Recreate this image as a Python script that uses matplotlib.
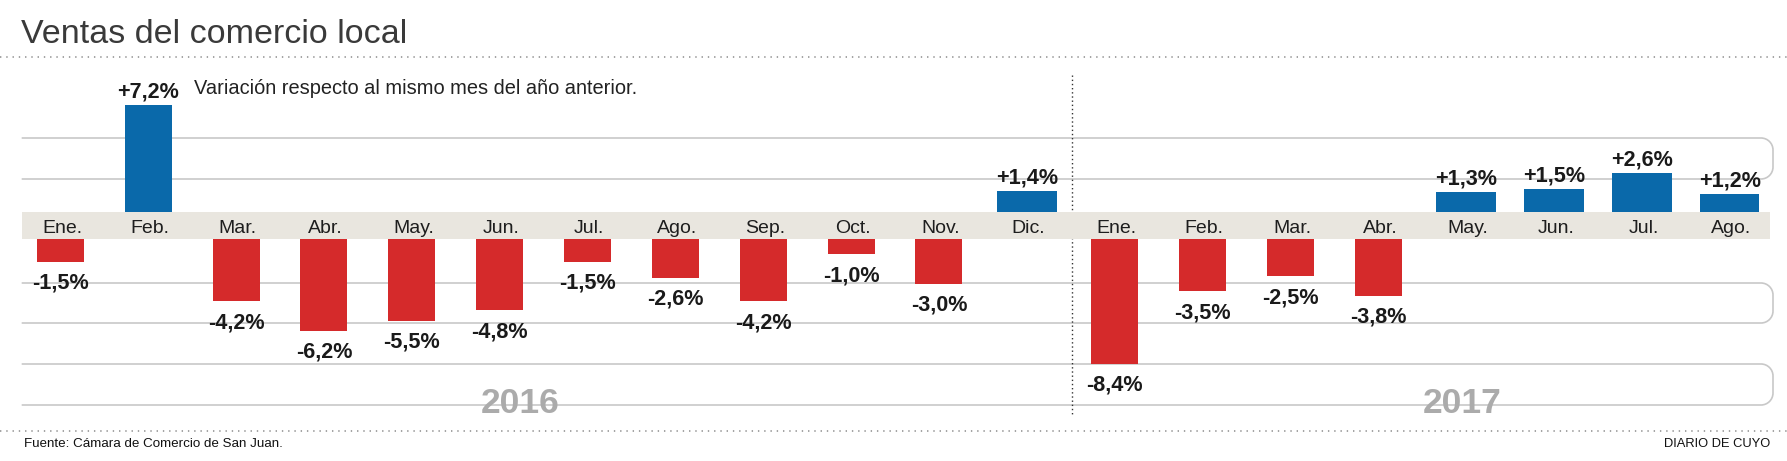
import matplotlib

matplotlib.use("Agg")
import matplotlib.pyplot as plt
from matplotlib.path import Path
from matplotlib.patches import PathPatch
import numpy as np

# data
MONTHS_2016 = ["Ene.", "Feb.", "Mar.", "Abr.", "May.", "Jun.", "Jul.", "Ago.", "Sep.", "Oct.", "Nov.", "Dic."]
MONTHS_2017 = ["Ene.", "Feb.", "Mar.", "Abr.", "May.", "Jun.", "Jul.", "Ago."]
VALUES_2016 = [-1.5, 7.2, -4.2, -6.2, -5.5, -4.8, -1.5, -2.6, -4.2, -1.0, -3.0, 1.4]
VALUES_2017 = [-8.4, -3.5, -2.5, -3.8, 1.3, 1.5, 2.6, 1.2]
YEARS = ["2016", "2017"]

TITLE = "Ventas del comercio local"
SUBTITLE = "Variación respecto al mismo mes del año anterior."
SOURCE = "Fuente: Cámara de Comercio de San Juan."
BRAND = "DIARIO DE CUYO"

# colours / layout (pixels of a 1787x461 canvas)
BLUE = "#0a69aa"
RED = "#d52a2b"
BAND = "#e9e6df"
GRID = "#c8c8c8"
W, H = 1787, 461
X0, STEP = 60.3, 87.86      # centre of first bar, bar spacing
YC, PPU = 225.5, 14.8       # band centre, pixels per percentage point
HALF_BAND = 13.8 / PPU      # half band height in data units

plt.rcParams["font.family"] = ["Liberation Sans", "DejaVu Sans"]


def fmt(v: float) -> str:
    return f"{v:+.1f}%".replace(".", ",")


def bracket(ax, y_top, y_bot, x_left=21.7, x_right=1773, r=12):
    k = 0.5523 * r
    verts = [
        (x_left, y_top), (x_right - r, y_top),
        (x_right - r + k, y_top), (x_right, y_top + r - k), (x_right, y_top + r),
        (x_right, y_bot - r),
        (x_right, y_bot - r + k), (x_right - r + k, y_bot), (x_right - r, y_bot),
        (x_left, y_bot),
    ]
    codes = [Path.MOVETO, Path.LINETO,
             Path.CURVE4, Path.CURVE4, Path.CURVE4,
             Path.LINETO,
             Path.CURVE4, Path.CURVE4, Path.CURVE4,
             Path.LINETO]
    ax.add_patch(PathPatch(Path(verts, codes), facecolor="none", edgecolor=GRID,
                           linewidth=1.2, zorder=1))


def main() -> None:
    months = MONTHS_2016 + MONTHS_2017
    values = np.array(VALUES_2016 + VALUES_2017)
    xs = np.arange(len(values))

    fig = plt.figure(figsize=(W / 100, H / 100), dpi=100)
    fig.patch.set_facecolor("white")

    # decoration layer in pixel coordinates
    deco = fig.add_axes([0, 0, 1, 1])
    deco.set_xlim(0, W)
    deco.set_ylim(H, 0)
    deco.axis("off")

    for y_top, y_bot in [(138, 179), (283, 323), (364, 405)]:
        bracket(deco, y_top, y_bot)

    deco.plot([0, W], [57, 57], color="#8a8a8a", linewidth=1.1, dashes=(0.9, 3.2))
    deco.plot([0, W], [431, 431], color="#8a8a8a", linewidth=1.1, dashes=(0.9, 3.2))
    deco.plot([1072, 1072], [75, 415], color="#333333", linewidth=1.0, dashes=(1, 2))

    deco.text(21, 43.3, TITLE, fontsize=24.5, color="#3a3a3a", va="baseline", ha="left")
    deco.text(194, 94.3, SUBTITLE, fontsize=14.45, color="#222222", va="baseline", ha="left")
    deco.text(24, 447, SOURCE, fontsize=9.6, color="#111111", va="baseline", ha="left")
    deco.text(1770, 447, BRAND, fontsize=9.3, color="#111111", va="baseline", ha="right")
    for label, xp in zip(YEARS, [520, 1462]):
        deco.text(xp, 413, label, fontsize=25.5, fontweight="bold", color="#ababab",
                  va="baseline", ha="center", zorder=3)

    # bar layer in data coordinates
    ax = fig.add_axes([0, 0, 1, 1])
    ax.patch.set_alpha(0)
    ax.set_xlim((0 - X0) / STEP, (W - X0) / STEP)
    ax.set_ylim(-(H - YC) / PPU, YC / PPU)
    ax.axis("off")

    ax.axhspan(-HALF_BAND, HALF_BAND, xmin=21.7 / W, xmax=1770 / W, color=BAND, linewidth=0, zorder=1)

    wide = [11, 16, 17, 18, 19]
    widths = np.where(np.isin(xs, wide), 0.677, 0.535)
    pos = values > 0
    bottoms = np.where(pos, HALF_BAND, -HALF_BAND)
    colors = np.where(pos, BLUE, RED)
    ax.bar(xs, values, width=widths, bottom=bottoms, color=colors, linewidth=0, zorder=2)

    for x, v, m in zip(xs, values, months):
        ax.text(x + 0.02, -0.5, m, fontsize=14, color="#1e1e1e", ha="center", va="baseline", zorder=3)
        if v > 0:
            y = HALF_BAND + v + 0.52
        else:
            y = -HALF_BAND + v - 1.82
        ax.text(x, y, fmt(v), fontsize=15.6, fontweight="bold", color="#1a1a1a",
                ha="center", va="baseline", zorder=3)

    fig.savefig("out.png", dpi=100, facecolor="white")
    plt.close(fig)


if __name__ == "__main__":
    main()
